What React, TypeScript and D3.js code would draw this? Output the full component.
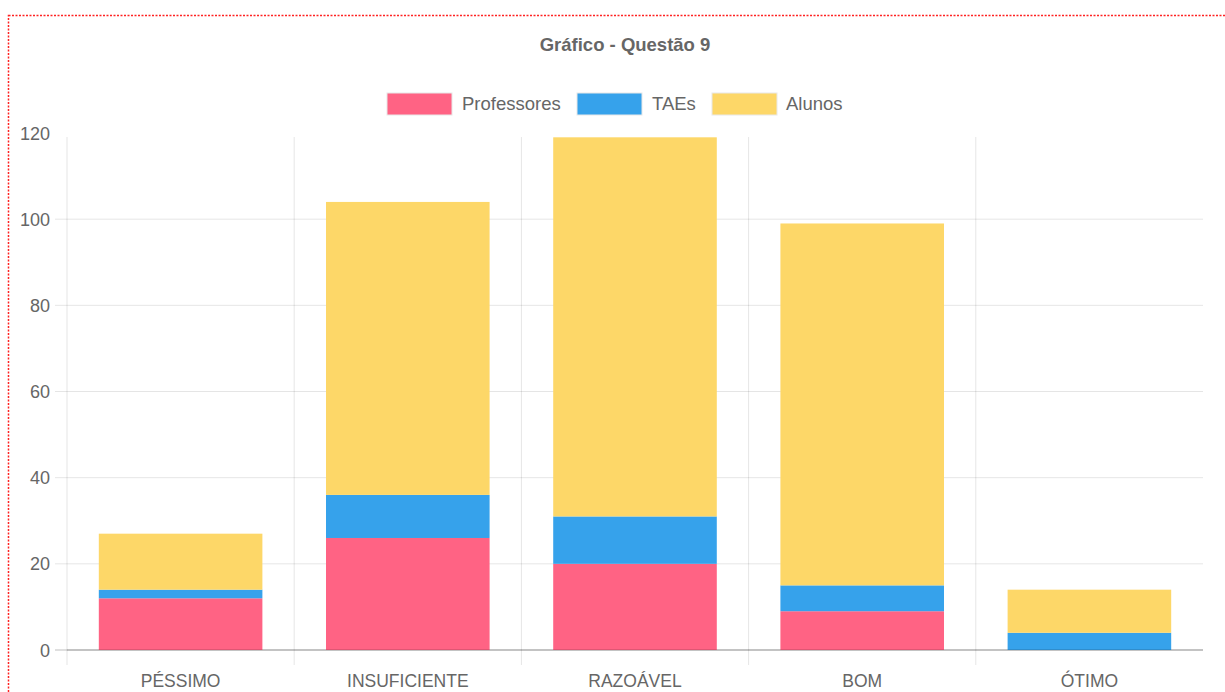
import React from "react";
import * as d3 from "d3";

const categories = ["PÉSSIMO", "INSUFICIENTE", "RAZOÁVEL", "BOM", "ÓTIMO"];
const seriesNames = ["Professores", "TAEs", "Alunos"];
const professores = [12, 26, 20, 9, 0];
const taes = [2, 10, 11, 6, 4];
const alunos = [13, 68, 88, 84, 10];
const colors = ["#FF6384", "#36A2EB", "#FDD768"];
const yTicks = [0, 20, 40, 60, 80, 100, 120];
const title = "Gráfico - Questão 9";

const W = 1225;
const H = 692;
const left = 67;
const right = 1203;
const top = 133;
const bottom = 650;
const FONT = "'Liberation Sans', Arial, Helvetica, sans-serif";
const TEXT = "#666";

export default function App() {
  const rows = categories.map((c, i) => ({
    cat: c,
    Professores: professores[i],
    TAEs: taes[i],
    Alunos: alunos[i],
  }));
  const stacked = d3.stack<any>().keys(seriesNames)(rows);

  const x = d3
    .scaleBand<string>()
    .domain(categories)
    .range([left, right])
    .paddingInner(0.28)
    .paddingOuter(0.14);
  const step = (right - left) / categories.length;
  const y = d3.scaleLinear().domain([0, 120]).range([bottom, top]);

  const legendItems = [
    { name: "Professores", x: 387, tx: 462 },
    { name: "TAEs", x: 577, tx: 652 },
    { name: "Alunos", x: 712, tx: 786 },
  ];

  return (
    <svg
      width={W}
      height={H}
      style={{ position: "absolute", left: 0, top: 0, background: "#fff" }}
    >
      <rect
        x={8.5}
        y={15.5}
        width={1400}
        height={900}
        fill="none"
        stroke="#f22"
        strokeWidth={1.5}
        strokeDasharray="2,1.5"
      />
      <text
        x={625}
        y={51}
        textAnchor="middle"
        fontFamily={FONT}
        fontWeight="bold"
        fontSize={18.5}
        fill={TEXT}
      >
        {title}
      </text>

      {legendItems.map((l, i) => (
        <g key={l.name}>
          <rect
            x={l.x}
            y={93}
            width={65}
            height={22}
            fill={colors[i]}
            stroke="#e8e8e8"
            strokeWidth={1}
          />
          <text
            x={l.tx}
            y={110}
            fontFamily={FONT}
            fontSize={18.5}
            fill={TEXT}
          >
            {l.name}
          </text>
        </g>
      ))}

      {/* horizontal grid */}
      {yTicks.map((t) =>
        t === 120 ? null : (
          <line
            key={"h" + t}
            x1={55}
            x2={right}
            y1={y(t)}
            y2={y(t)}
            stroke={t === 0 ? "rgba(0,0,0,0.25)" : "rgba(0,0,0,0.1)"}
            strokeWidth={1}
          />
        )
      )}
      {/* vertical grid */}
      {categories.map((c, i) => (
        <line
          key={"v" + c}
          x1={left + i * step}
          x2={left + i * step}
          y1={top + 4}
          y2={bottom + 15}
          stroke="rgba(0,0,0,0.1)"
          strokeWidth={1}
        />
      ))}

      {yTicks.map((t) => (
        <text
          key={"yt" + t}
          x={50}
          y={y(t) + 6.5}
          textAnchor="end"
          fontFamily={FONT}
          fontSize={18}
          fill={TEXT}
        >
          {t}
        </text>
      ))}

      {stacked.map((s, si) => (
        <g key={s.key} fill={colors[si]}>
          {s.map((d: any, i: number) => (
            <rect
              key={i}
              x={x(categories[i])}
              width={x.bandwidth()}
              y={y(d[1])}
              height={Math.max(0, y(d[0]) - y(d[1]))}
            />
          ))}
        </g>
      ))}
      <line
        x1={left}
        x2={right}
        y1={bottom}
        y2={bottom}
        stroke="rgba(0,0,0,0.25)"
      />

      {categories.map((c) => (
        <text
          key={"xt" + c}
          x={(x(c) as number) + x.bandwidth() / 2}
          y={687}
          textAnchor="middle"
          fontFamily={FONT}
          fontSize={17.5}
          fill={TEXT}
        >
          {c}
        </text>
      ))}
    </svg>
  );
}
